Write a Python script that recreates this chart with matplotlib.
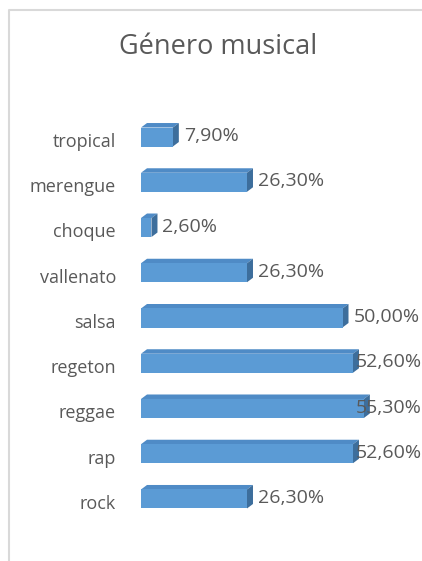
import matplotlib
matplotlib.use("Agg")
import matplotlib.pyplot as plt
from matplotlib.patches import Polygon
from matplotlib.lines import Line2D

# ------------- data (top to bottom as in the chart) --------------
genres = ["tropical", "merengue", "choque", "vallenato", "salsa",
          "regeton", "reggae", "rap", "rock"]
shares = [7.9, 26.3, 2.6, 26.3, 50.0, 52.6, 55.3, 52.6, 26.3]  # percent

# ------------- style --------------
FRONT = "#5B9BD5"
TOP = "#4F8BC6"
SIDE = "#3D6E9C"
TEXT = "#595959"
FONT = ["Open Sans", "DejaVu Sans"]
plt.rcParams["font.family"] = FONT

W, H, DPI = 422, 561, 100
fig = plt.figure(figsize=(W / DPI, H / DPI), dpi=DPI, facecolor="white")

# axes placed in pixels: x=0 at 141px, bottom 521.6px, top 114.4px
ax_left, ax_right = 141, 420
ax_top, ax_bot = 114.4, 521.6
ax = fig.add_axes([ax_left / W, 1 - ax_bot / H, (ax_right - ax_left) / W, (ax_bot - ax_top) / H])
px_per_pct = 4.03
xmax = (ax_right - ax_left) / px_per_pct
ax.set_xlim(0, xmax)
ax.set_ylim(-0.5, len(genres) - 0.5)
ax.axis("off")

n = len(genres)
ypos = [n - 1 - i for i in range(n)]
bar_h = 0.42
# depth of the 3D look, in pixels converted to data units
dx = 6 / px_per_pct
dy = 4.5 / ((ax_bot - ax_top) / n)

ax.barh(ypos, shares, height=bar_h, color=FRONT, edgecolor="none", zorder=3)
for y, v in zip(ypos, shares):
    top = y + bar_h / 2
    bot = y - bar_h / 2
    ax.add_patch(Polygon([(0, top), (v, top), (v + dx, top + dy), (dx, top + dy)],
                         closed=True, facecolor=TOP, edgecolor="none", zorder=2))
    ax.add_patch(Polygon([(v, bot), (v + dx, bot + dy), (v + dx, top + dy), (v, top)],
                         closed=True, facecolor=SIDE, edgecolor="none", zorder=2))
    # value label, kept inside the chart area like excel does
    lx = min(v + 11 / px_per_pct, (356 - ax_left) / px_per_pct)
    ax.text(lx, y + 0.02, f"{v:.2f}%".replace(".", ","), va="center", ha="left",
            fontsize=14, color=TEXT, zorder=4, clip_on=False)
    ax.text(-25 / px_per_pct, y - 0.11, genres[n - 1 - y], va="center", ha="right",
            fontsize=13, color=TEXT, clip_on=False)

fig.text(218 / W, 1 - 47 / H, "Género musical", ha="center", va="center",
         fontsize=19.5, color=TEXT)

# light chart-area border (left and top edges visible)
fig.add_artist(Line2D([9 / W, 9 / W, 1.0], [0.0, 1 - 10 / H, 1 - 10 / H],
                      color="#D9D9D9", lw=1.5, transform=fig.transFigure))

fig.savefig("out.png", dpi=DPI, facecolor="white")
